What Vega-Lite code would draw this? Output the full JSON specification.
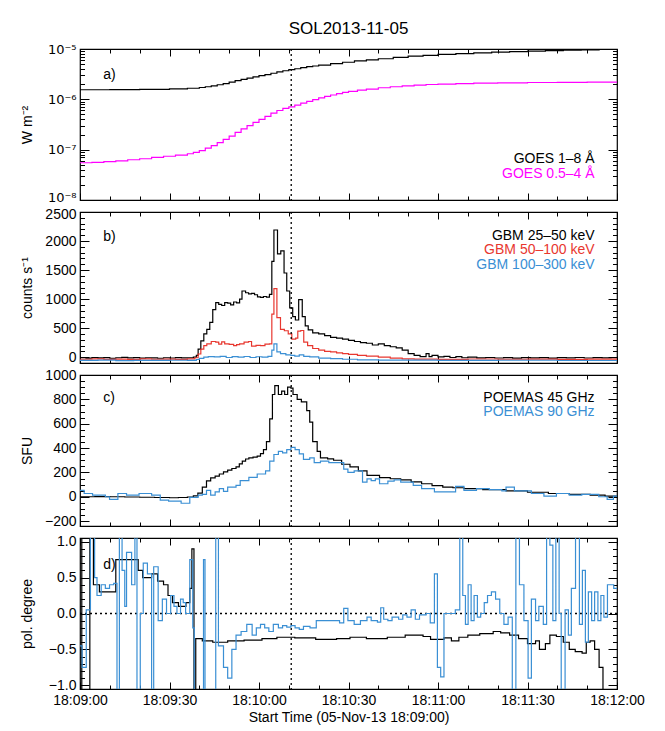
{
  "$schema": "https://vega.github.io/schema/vega-lite/v6.json",
  "title": {"text": "SOL2013-11-05", "fontSize": 17, "fontWeight": "normal", "font": "Liberation Sans", "color": "#000", "anchor": "middle", "frame": "group", "offset": 4},
  "padding": {"left": 19, "top": 20, "right": 5, "bottom": 0},
  "datasets": {
    "goes": [
      {"t": 0, "s": "1-8", "v": 1.55e-6}, {"t": 10, "s": "1-8", "v": 1.56e-6}, {"t": 20, "s": "1-8", "v": 1.58e-6}, {"t": 30, "s": "1-8", "v": 1.62e-6},
      {"t": 36, "s": "1-8", "v": 1.66e-6}, {"t": 40, "s": "1-8", "v": 1.72e-6}, {"t": 42, "s": "1-8", "v": 1.78e-6}, {"t": 44, "s": "1-8", "v": 1.85e-6},
      {"t": 46, "s": "1-8", "v": 1.95e-6}, {"t": 48, "s": "1-8", "v": 2.05e-6}, {"t": 50, "s": "1-8", "v": 2.2e-6}, {"t": 52, "s": "1-8", "v": 2.35e-6},
      {"t": 54, "s": "1-8", "v": 2.5e-6}, {"t": 56, "s": "1-8", "v": 2.65e-6}, {"t": 58, "s": "1-8", "v": 2.8e-6}, {"t": 60, "s": "1-8", "v": 2.95e-6},
      {"t": 62, "s": "1-8", "v": 3.1e-6}, {"t": 64, "s": "1-8", "v": 3.3e-6}, {"t": 66, "s": "1-8", "v": 3.5e-6}, {"t": 68, "s": "1-8", "v": 3.7e-6},
      {"t": 70, "s": "1-8", "v": 3.9e-6}, {"t": 72, "s": "1-8", "v": 4.05e-6}, {"t": 74, "s": "1-8", "v": 4.25e-6}, {"t": 76, "s": "1-8", "v": 4.45e-6},
      {"t": 78, "s": "1-8", "v": 4.6e-6}, {"t": 80, "s": "1-8", "v": 4.8e-6}, {"t": 84, "s": "1-8", "v": 5.1e-6}, {"t": 88, "s": "1-8", "v": 5.45e-6},
      {"t": 92, "s": "1-8", "v": 5.8e-6}, {"t": 96, "s": "1-8", "v": 6.1e-6}, {"t": 100, "s": "1-8", "v": 6.4e-6}, {"t": 105, "s": "1-8", "v": 6.8e-6},
      {"t": 110, "s": "1-8", "v": 7.2e-6}, {"t": 115, "s": "1-8", "v": 7.5e-6}, {"t": 120, "s": "1-8", "v": 7.8e-6}, {"t": 126, "s": "1-8", "v": 8.1e-6},
      {"t": 132, "s": "1-8", "v": 8.4e-6}, {"t": 138, "s": "1-8", "v": 8.7e-6}, {"t": 144, "s": "1-8", "v": 8.9e-6}, {"t": 150, "s": "1-8", "v": 9.1e-6},
      {"t": 156, "s": "1-8", "v": 9.3e-6}, {"t": 162, "s": "1-8", "v": 9.5e-6}, {"t": 168, "s": "1-8", "v": 9.65e-6}, {"t": 174, "s": "1-8", "v": 9.8e-6},
      {"t": 180, "s": "1-8", "v": 9.9e-6},
      {"t": 0, "s": "0.5-4", "v": 5.5e-8}, {"t": 4, "s": "0.5-4", "v": 5.6e-8}, {"t": 8, "s": "0.5-4", "v": 5.8e-8}, {"t": 12, "s": "0.5-4", "v": 6.0e-8},
      {"t": 16, "s": "0.5-4", "v": 6.3e-8}, {"t": 20, "s": "0.5-4", "v": 6.6e-8}, {"t": 24, "s": "0.5-4", "v": 7.0e-8}, {"t": 28, "s": "0.5-4", "v": 7.4e-8},
      {"t": 32, "s": "0.5-4", "v": 7.8e-8}, {"t": 36, "s": "0.5-4", "v": 8.3e-8}, {"t": 38, "s": "0.5-4", "v": 8.8e-8}, {"t": 40, "s": "0.5-4", "v": 9.6e-8},
      {"t": 42, "s": "0.5-4", "v": 1.07e-7}, {"t": 44, "s": "0.5-4", "v": 1.2e-7}, {"t": 46, "s": "0.5-4", "v": 1.38e-7}, {"t": 48, "s": "0.5-4", "v": 1.6e-7},
      {"t": 50, "s": "0.5-4", "v": 1.85e-7}, {"t": 52, "s": "0.5-4", "v": 2.2e-7}, {"t": 54, "s": "0.5-4", "v": 2.6e-7}, {"t": 56, "s": "0.5-4", "v": 3.0e-7},
      {"t": 58, "s": "0.5-4", "v": 3.5e-7}, {"t": 60, "s": "0.5-4", "v": 4.0e-7}, {"t": 62, "s": "0.5-4", "v": 4.6e-7}, {"t": 64, "s": "0.5-4", "v": 5.3e-7},
      {"t": 66, "s": "0.5-4", "v": 6.0e-7}, {"t": 68, "s": "0.5-4", "v": 6.6e-7}, {"t": 70, "s": "0.5-4", "v": 7.1e-7}, {"t": 72, "s": "0.5-4", "v": 7.7e-7},
      {"t": 74, "s": "0.5-4", "v": 8.4e-7}, {"t": 76, "s": "0.5-4", "v": 9.1e-7}, {"t": 78, "s": "0.5-4", "v": 9.9e-7}, {"t": 80, "s": "0.5-4", "v": 1.07e-6},
      {"t": 82, "s": "0.5-4", "v": 1.14e-6}, {"t": 84, "s": "0.5-4", "v": 1.22e-6}, {"t": 86, "s": "0.5-4", "v": 1.3e-6}, {"t": 88, "s": "0.5-4", "v": 1.37e-6},
      {"t": 90, "s": "0.5-4", "v": 1.44e-6}, {"t": 93, "s": "0.5-4", "v": 1.52e-6}, {"t": 96, "s": "0.5-4", "v": 1.6e-6}, {"t": 100, "s": "0.5-4", "v": 1.7e-6},
      {"t": 104, "s": "0.5-4", "v": 1.78e-6}, {"t": 108, "s": "0.5-4", "v": 1.85e-6}, {"t": 112, "s": "0.5-4", "v": 1.92e-6}, {"t": 116, "s": "0.5-4", "v": 1.97e-6},
      {"t": 120, "s": "0.5-4", "v": 2.01e-6}, {"t": 126, "s": "0.5-4", "v": 2.06e-6}, {"t": 132, "s": "0.5-4", "v": 2.1e-6}, {"t": 140, "s": "0.5-4", "v": 2.13e-6},
      {"t": 150, "s": "0.5-4", "v": 2.16e-6}, {"t": 160, "s": "0.5-4", "v": 2.18e-6}, {"t": 170, "s": "0.5-4", "v": 2.19e-6}, {"t": 180, "s": "0.5-4", "v": 2.2e-6}
    ],
    "gbm": [
      {"t": 0, "s": "25-50", "v": -10}, {"t": 2, "s": "25-50", "v": -15}, {"t": 4, "s": "25-50", "v": -5}, {"t": 6, "s": "25-50", "v": -12},
      {"t": 8, "s": "25-50", "v": -8}, {"t": 10, "s": "25-50", "v": -18}, {"t": 12, "s": "25-50", "v": -10}, {"t": 14, "s": "25-50", "v": -3},
      {"t": 16, "s": "25-50", "v": -12}, {"t": 18, "s": "25-50", "v": -8}, {"t": 20, "s": "25-50", "v": -15}, {"t": 22, "s": "25-50", "v": -10},
      {"t": 24, "s": "25-50", "v": -12}, {"t": 26, "s": "25-50", "v": -18}, {"t": 28, "s": "25-50", "v": -10}, {"t": 30, "s": "25-50", "v": -14},
      {"t": 32, "s": "25-50", "v": -8}, {"t": 34, "s": "25-50", "v": -12}, {"t": 36, "s": "25-50", "v": -10}, {"t": 38, "s": "25-50", "v": 0},
      {"t": 39, "s": "25-50", "v": 30}, {"t": 39.6, "s": "25-50", "v": 140}, {"t": 40.5, "s": "25-50", "v": 280}, {"t": 41.5, "s": "25-50", "v": 400},
      {"t": 42.5, "s": "25-50", "v": 480}, {"t": 43.5, "s": "25-50", "v": 600}, {"t": 44.5, "s": "25-50", "v": 820}, {"t": 45.5, "s": "25-50", "v": 940},
      {"t": 46.5, "s": "25-50", "v": 910}, {"t": 47.5, "s": "25-50", "v": 890}, {"t": 48.5, "s": "25-50", "v": 940}, {"t": 49.5, "s": "25-50", "v": 930},
      {"t": 50.5, "s": "25-50", "v": 900}, {"t": 51.5, "s": "25-50", "v": 950}, {"t": 52.5, "s": "25-50", "v": 935}, {"t": 53.5, "s": "25-50", "v": 1000},
      {"t": 54.3, "s": "25-50", "v": 1140}, {"t": 55.5, "s": "25-50", "v": 1110}, {"t": 56.5, "s": "25-50", "v": 1090}, {"t": 57.5, "s": "25-50", "v": 1100},
      {"t": 58.5, "s": "25-50", "v": 1075}, {"t": 59.5, "s": "25-50", "v": 1040}, {"t": 60.5, "s": "25-50", "v": 1030}, {"t": 61.5, "s": "25-50", "v": 1045},
      {"t": 62.5, "s": "25-50", "v": 1035}, {"t": 63.5, "s": "25-50", "v": 1080}, {"t": 64.3, "s": "25-50", "v": 1650}, {"t": 65, "s": "25-50", "v": 2190},
      {"t": 66.2, "s": "25-50", "v": 1780}, {"t": 67.3, "s": "25-50", "v": 1830}, {"t": 68.4, "s": "25-50", "v": 1450}, {"t": 69.3, "s": "25-50", "v": 1140},
      {"t": 70.3, "s": "25-50", "v": 850}, {"t": 71.3, "s": "25-50", "v": 700}, {"t": 72.2, "s": "25-50", "v": 640}, {"t": 73.3, "s": "25-50", "v": 990},
      {"t": 74.5, "s": "25-50", "v": 700}, {"t": 75.5, "s": "25-50", "v": 540}, {"t": 76.5, "s": "25-50", "v": 470}, {"t": 78, "s": "25-50", "v": 420},
      {"t": 80, "s": "25-50", "v": 400}, {"t": 82, "s": "25-50", "v": 370}, {"t": 84, "s": "25-50", "v": 340}, {"t": 86, "s": "25-50", "v": 330},
      {"t": 88, "s": "25-50", "v": 310}, {"t": 90, "s": "25-50", "v": 290}, {"t": 92, "s": "25-50", "v": 270}, {"t": 94, "s": "25-50", "v": 250},
      {"t": 96, "s": "25-50", "v": 240}, {"t": 98, "s": "25-50", "v": 210}, {"t": 100, "s": "25-50", "v": 230}, {"t": 102, "s": "25-50", "v": 200},
      {"t": 104, "s": "25-50", "v": 180}, {"t": 106, "s": "25-50", "v": 160}, {"t": 108, "s": "25-50", "v": 120}, {"t": 110, "s": "25-50", "v": 60},
      {"t": 112, "s": "25-50", "v": 30}, {"t": 114, "s": "25-50", "v": 10}, {"t": 116, "s": "25-50", "v": 60}, {"t": 117, "s": "25-50", "v": 10},
      {"t": 118, "s": "25-50", "v": 30}, {"t": 120, "s": "25-50", "v": 5}, {"t": 122, "s": "25-50", "v": 15}, {"t": 124, "s": "25-50", "v": -5},
      {"t": 126, "s": "25-50", "v": 10}, {"t": 128, "s": "25-50", "v": -10}, {"t": 130, "s": "25-50", "v": 0}, {"t": 133, "s": "25-50", "v": -12},
      {"t": 136, "s": "25-50", "v": -5}, {"t": 139, "s": "25-50", "v": -14}, {"t": 142, "s": "25-50", "v": -8}, {"t": 145, "s": "25-50", "v": -15},
      {"t": 148, "s": "25-50", "v": -6}, {"t": 151, "s": "25-50", "v": -12}, {"t": 154, "s": "25-50", "v": -9}, {"t": 157, "s": "25-50", "v": -16},
      {"t": 160, "s": "25-50", "v": -8}, {"t": 163, "s": "25-50", "v": -12}, {"t": 166, "s": "25-50", "v": -5}, {"t": 169, "s": "25-50", "v": -14},
      {"t": 172, "s": "25-50", "v": -9}, {"t": 175, "s": "25-50", "v": -13}, {"t": 178, "s": "25-50", "v": -7}, {"t": 180, "s": "25-50", "v": -10},
      {"t": 0, "s": "50-100", "v": -35}, {"t": 4, "s": "50-100", "v": -30}, {"t": 8, "s": "50-100", "v": -38}, {"t": 12, "s": "50-100", "v": -32},
      {"t": 16, "s": "50-100", "v": -36}, {"t": 20, "s": "50-100", "v": -30}, {"t": 24, "s": "50-100", "v": -35}, {"t": 28, "s": "50-100", "v": -32},
      {"t": 32, "s": "50-100", "v": -36}, {"t": 36, "s": "50-100", "v": -30}, {"t": 38.5, "s": "50-100", "v": -10}, {"t": 39.6, "s": "50-100", "v": 55},
      {"t": 40.5, "s": "50-100", "v": 140}, {"t": 41.5, "s": "50-100", "v": 200}, {"t": 42.5, "s": "50-100", "v": 230}, {"t": 44, "s": "50-100", "v": 270},
      {"t": 45.5, "s": "50-100", "v": 260}, {"t": 46.5, "s": "50-100", "v": 225}, {"t": 47.5, "s": "50-100", "v": 265}, {"t": 48.5, "s": "50-100", "v": 230},
      {"t": 50, "s": "50-100", "v": 220}, {"t": 51.5, "s": "50-100", "v": 200}, {"t": 52.5, "s": "50-100", "v": 215}, {"t": 53.5, "s": "50-100", "v": 230},
      {"t": 55, "s": "50-100", "v": 260}, {"t": 56.5, "s": "50-100", "v": 270}, {"t": 57.5, "s": "50-100", "v": 190}, {"t": 59, "s": "50-100", "v": 205},
      {"t": 60.5, "s": "50-100", "v": 200}, {"t": 62, "s": "50-100", "v": 225}, {"t": 63.5, "s": "50-100", "v": 230}, {"t": 64.3, "s": "50-100", "v": 740},
      {"t": 65, "s": "50-100", "v": 1180}, {"t": 66, "s": "50-100", "v": 680}, {"t": 67.2, "s": "50-100", "v": 480}, {"t": 68.5, "s": "50-100", "v": 455},
      {"t": 69.8, "s": "50-100", "v": 400}, {"t": 71, "s": "50-100", "v": 310}, {"t": 72.3, "s": "50-100", "v": 330}, {"t": 73, "s": "50-100", "v": 450},
      {"t": 74, "s": "50-100", "v": 460}, {"t": 75, "s": "50-100", "v": 260}, {"t": 76.3, "s": "50-100", "v": 200}, {"t": 78, "s": "50-100", "v": 150},
      {"t": 80, "s": "50-100", "v": 120}, {"t": 82, "s": "50-100", "v": 100}, {"t": 84, "s": "50-100", "v": 90}, {"t": 86, "s": "50-100", "v": 75},
      {"t": 88, "s": "50-100", "v": 60}, {"t": 90, "s": "50-100", "v": 50}, {"t": 93, "s": "50-100", "v": 30}, {"t": 96, "s": "50-100", "v": 20},
      {"t": 100, "s": "50-100", "v": 0}, {"t": 104, "s": "50-100", "v": -15}, {"t": 108, "s": "50-100", "v": -28}, {"t": 112, "s": "50-100", "v": -32},
      {"t": 120, "s": "50-100", "v": -36}, {"t": 130, "s": "50-100", "v": -31}, {"t": 140, "s": "50-100", "v": -35}, {"t": 150, "s": "50-100", "v": -33},
      {"t": 160, "s": "50-100", "v": -37}, {"t": 170, "s": "50-100", "v": -32}, {"t": 180, "s": "50-100", "v": -35},
      {"t": 0, "s": "100-300", "v": -55}, {"t": 6, "s": "100-300", "v": -52}, {"t": 12, "s": "100-300", "v": -58}, {"t": 18, "s": "100-300", "v": -54},
      {"t": 24, "s": "100-300", "v": -56}, {"t": 30, "s": "100-300", "v": -53}, {"t": 36, "s": "100-300", "v": -55}, {"t": 39, "s": "100-300", "v": -40},
      {"t": 40, "s": "100-300", "v": -20}, {"t": 41.5, "s": "100-300", "v": 0}, {"t": 43, "s": "100-300", "v": 10}, {"t": 45, "s": "100-300", "v": 5},
      {"t": 47, "s": "100-300", "v": 15}, {"t": 49, "s": "100-300", "v": -5}, {"t": 51, "s": "100-300", "v": 10}, {"t": 53, "s": "100-300", "v": 0},
      {"t": 55, "s": "100-300", "v": 12}, {"t": 57, "s": "100-300", "v": -5}, {"t": 59, "s": "100-300", "v": 8}, {"t": 61, "s": "100-300", "v": 2},
      {"t": 63, "s": "100-300", "v": 15}, {"t": 64.3, "s": "100-300", "v": 120}, {"t": 65, "s": "100-300", "v": 230}, {"t": 66, "s": "100-300", "v": 90},
      {"t": 67.2, "s": "100-300", "v": 60}, {"t": 69, "s": "100-300", "v": 40}, {"t": 70.7, "s": "100-300", "v": 30}, {"t": 72, "s": "100-300", "v": 20},
      {"t": 73.5, "s": "100-300", "v": 40}, {"t": 75, "s": "100-300", "v": 15}, {"t": 77, "s": "100-300", "v": 5}, {"t": 80, "s": "100-300", "v": -15},
      {"t": 84, "s": "100-300", "v": -25}, {"t": 88, "s": "100-300", "v": -35}, {"t": 93, "s": "100-300", "v": -45}, {"t": 100, "s": "100-300", "v": -52},
      {"t": 120, "s": "100-300", "v": -56}, {"t": 140, "s": "100-300", "v": -53}, {"t": 160, "s": "100-300", "v": -57}, {"t": 180, "s": "100-300", "v": -55}
    ],
    "poemas": [
      {"t": 0, "s": "45", "v": 0}, {"t": 5, "s": "45", "v": 2}, {"t": 10, "s": "45", "v": 0}, {"t": 15, "s": "45", "v": -2},
      {"t": 20, "s": "45", "v": -4}, {"t": 25, "s": "45", "v": -6}, {"t": 30, "s": "45", "v": -8}, {"t": 33, "s": "45", "v": -6},
      {"t": 36, "s": "45", "v": -2}, {"t": 38, "s": "45", "v": 8}, {"t": 39.5, "s": "45", "v": 30}, {"t": 41, "s": "45", "v": 80},
      {"t": 42.4, "s": "45", "v": 130}, {"t": 43.8, "s": "45", "v": 155}, {"t": 45.3, "s": "45", "v": 170}, {"t": 46.7, "s": "45", "v": 187},
      {"t": 48.1, "s": "45", "v": 205}, {"t": 49.5, "s": "45", "v": 219}, {"t": 50.9, "s": "45", "v": 232}, {"t": 52.3, "s": "45", "v": 245},
      {"t": 53.4, "s": "45", "v": 270}, {"t": 54.4, "s": "45", "v": 293}, {"t": 55.5, "s": "45", "v": 310}, {"t": 56.6, "s": "45", "v": 320},
      {"t": 58, "s": "45", "v": 326}, {"t": 59.4, "s": "45", "v": 333}, {"t": 60.5, "s": "45", "v": 355}, {"t": 61.5, "s": "45", "v": 387},
      {"t": 62.5, "s": "45", "v": 453}, {"t": 63.6, "s": "45", "v": 640}, {"t": 64.5, "s": "45", "v": 840}, {"t": 65.3, "s": "45", "v": 912},
      {"t": 66.5, "s": "45", "v": 840}, {"t": 67.6, "s": "45", "v": 867}, {"t": 68.6, "s": "45", "v": 840}, {"t": 69.6, "s": "45", "v": 901},
      {"t": 70.7, "s": "45", "v": 893}, {"t": 71.4, "s": "45", "v": 840}, {"t": 72.8, "s": "45", "v": 800}, {"t": 74.2, "s": "45", "v": 779},
      {"t": 76, "s": "45", "v": 707}, {"t": 77, "s": "45", "v": 613}, {"t": 78, "s": "45", "v": 453}, {"t": 79.5, "s": "45", "v": 373},
      {"t": 80.6, "s": "45", "v": 320}, {"t": 83, "s": "45", "v": 312}, {"t": 85, "s": "45", "v": 300}, {"t": 87.7, "s": "45", "v": 267},
      {"t": 90.5, "s": "45", "v": 245}, {"t": 93.3, "s": "45", "v": 213}, {"t": 96.2, "s": "45", "v": 175}, {"t": 100.4, "s": "45", "v": 158},
      {"t": 104, "s": "45", "v": 148}, {"t": 107.5, "s": "45", "v": 139}, {"t": 111, "s": "45", "v": 122}, {"t": 114.5, "s": "45", "v": 107},
      {"t": 118, "s": "45", "v": 92}, {"t": 121.6, "s": "45", "v": 80}, {"t": 125, "s": "45", "v": 74}, {"t": 128.7, "s": "45", "v": 67},
      {"t": 135, "s": "45", "v": 58}, {"t": 142.8, "s": "45", "v": 48}, {"t": 150, "s": "45", "v": 37}, {"t": 157, "s": "45", "v": 27},
      {"t": 164, "s": "45", "v": 20}, {"t": 171, "s": "45", "v": 13}, {"t": 176, "s": "45", "v": 6}, {"t": 180, "s": "45", "v": 0},
      {"t": 0, "s": "90", "v": 53}, {"t": 1.4, "s": "90", "v": 27}, {"t": 4.2, "s": "90", "v": 13}, {"t": 8.5, "s": "90", "v": 0},
      {"t": 9.9, "s": "90", "v": -21}, {"t": 12.7, "s": "90", "v": 27}, {"t": 15.6, "s": "90", "v": 13}, {"t": 19.8, "s": "90", "v": 27},
      {"t": 24, "s": "90", "v": 13}, {"t": 26.9, "s": "90", "v": -27}, {"t": 29.7, "s": "90", "v": -35}, {"t": 33.9, "s": "90", "v": -53},
      {"t": 36.8, "s": "90", "v": -5}, {"t": 39.6, "s": "90", "v": 13}, {"t": 41, "s": "90", "v": 20}, {"t": 42.4, "s": "90", "v": 53},
      {"t": 43.8, "s": "90", "v": 13}, {"t": 45.3, "s": "90", "v": 40}, {"t": 46.7, "s": "90", "v": 67}, {"t": 48.1, "s": "90", "v": 45},
      {"t": 49.5, "s": "90", "v": 80}, {"t": 52.3, "s": "90", "v": 93}, {"t": 53.7, "s": "90", "v": 133}, {"t": 56.6, "s": "90", "v": 160},
      {"t": 59.4, "s": "90", "v": 187}, {"t": 62.2, "s": "90", "v": 213}, {"t": 63.6, "s": "90", "v": 293}, {"t": 65, "s": "90", "v": 347},
      {"t": 66.5, "s": "90", "v": 373}, {"t": 67.9, "s": "90", "v": 360}, {"t": 69.3, "s": "90", "v": 387}, {"t": 70.7, "s": "90", "v": 405},
      {"t": 72.1, "s": "90", "v": 387}, {"t": 73.5, "s": "90", "v": 352}, {"t": 74.9, "s": "90", "v": 307}, {"t": 77, "s": "90", "v": 320},
      {"t": 78.5, "s": "90", "v": 280}, {"t": 80.6, "s": "90", "v": 293}, {"t": 83.4, "s": "90", "v": 280}, {"t": 86.3, "s": "90", "v": 280},
      {"t": 88.4, "s": "90", "v": 227}, {"t": 89.8, "s": "90", "v": 200}, {"t": 91.9, "s": "90", "v": 213}, {"t": 94.7, "s": "90", "v": 120},
      {"t": 96.2, "s": "90", "v": 147}, {"t": 97.6, "s": "90", "v": 133}, {"t": 99, "s": "90", "v": 147}, {"t": 100.4, "s": "90", "v": 107},
      {"t": 103.2, "s": "90", "v": 128}, {"t": 105.3, "s": "90", "v": 139}, {"t": 107.5, "s": "90", "v": 120}, {"t": 111.7, "s": "90", "v": 93},
      {"t": 114.5, "s": "90", "v": 67}, {"t": 118.8, "s": "90", "v": 40}, {"t": 123, "s": "90", "v": 40}, {"t": 125.9, "s": "90", "v": 85},
      {"t": 128.7, "s": "90", "v": 53}, {"t": 132.9, "s": "90", "v": 67}, {"t": 137.2, "s": "90", "v": 59}, {"t": 141.4, "s": "90", "v": 48},
      {"t": 142.8, "s": "90", "v": 80}, {"t": 145.6, "s": "90", "v": 48}, {"t": 151.3, "s": "90", "v": 27}, {"t": 155.5, "s": "90", "v": 5},
      {"t": 159.7, "s": "90", "v": 27}, {"t": 164, "s": "90", "v": 13}, {"t": 168.2, "s": "90", "v": 20}, {"t": 173.9, "s": "90", "v": 0},
      {"t": 176.7, "s": "90", "v": -21}, {"t": 178.8, "s": "90", "v": 5}, {"t": 180, "s": "90", "v": 10}
    ],
    "pol": [
      {"t": 0, "s": "45", "v": 1.3}, {"t": 0.6, "s": "45", "v": -1.3}, {"t": 3.3, "s": "45", "v": 1.3}, {"t": 4.5, "s": "45", "v": 0.4},
      {"t": 6.5, "s": "45", "v": 0.3}, {"t": 12, "s": "45", "v": 0.75}, {"t": 19.5, "s": "45", "v": 0.6}, {"t": 21, "s": "45", "v": 0.5},
      {"t": 24, "s": "45", "v": 0.55}, {"t": 26, "s": "45", "v": 0.45}, {"t": 28, "s": "45", "v": 0.4}, {"t": 29.5, "s": "45", "v": 0.25},
      {"t": 31, "s": "45", "v": 0.15}, {"t": 33, "s": "45", "v": 0.1}, {"t": 35.5, "s": "45", "v": 0.15}, {"t": 36.8, "s": "45", "v": 0.35},
      {"t": 37.5, "s": "45", "v": 0.9}, {"t": 38.2, "s": "45", "v": -1.3}, {"t": 38.8, "s": "45", "v": -0.35}, {"t": 41, "s": "45", "v": -0.38},
      {"t": 44.5, "s": "45", "v": -0.4}, {"t": 49.5, "s": "45", "v": -0.38}, {"t": 55, "s": "45", "v": -0.37}, {"t": 61, "s": "45", "v": -0.35},
      {"t": 66, "s": "45", "v": -0.33}, {"t": 72, "s": "45", "v": -0.34}, {"t": 79, "s": "45", "v": -0.36}, {"t": 86, "s": "45", "v": -0.35},
      {"t": 90.5, "s": "45", "v": -0.33}, {"t": 96, "s": "45", "v": -0.35}, {"t": 103, "s": "45", "v": -0.33}, {"t": 109, "s": "45", "v": -0.3},
      {"t": 115, "s": "45", "v": -0.32}, {"t": 117.5, "s": "45", "v": -0.36}, {"t": 122, "s": "45", "v": -0.34}, {"t": 124.5, "s": "45", "v": -0.38},
      {"t": 127, "s": "45", "v": -0.33}, {"t": 130, "s": "45", "v": -0.3}, {"t": 134, "s": "45", "v": -0.28}, {"t": 138.5, "s": "45", "v": -0.25},
      {"t": 141, "s": "45", "v": -0.27}, {"t": 144, "s": "45", "v": -0.3}, {"t": 147, "s": "45", "v": -0.35}, {"t": 150, "s": "45", "v": -0.42},
      {"t": 152.7, "s": "45", "v": -0.38}, {"t": 154, "s": "45", "v": -0.5}, {"t": 156, "s": "45", "v": -0.42}, {"t": 157.5, "s": "45", "v": -0.3},
      {"t": 159.7, "s": "45", "v": -0.32}, {"t": 162, "s": "45", "v": -0.4}, {"t": 164, "s": "45", "v": -0.5}, {"t": 166, "s": "45", "v": -0.53},
      {"t": 168.3, "s": "45", "v": -0.55}, {"t": 169.7, "s": "45", "v": -0.4}, {"t": 171, "s": "45", "v": -0.38}, {"t": 172.5, "s": "45", "v": -0.5},
      {"t": 174, "s": "45", "v": -0.75}, {"t": 175.3, "s": "45", "v": -1.3}, {"t": 180, "s": "45", "v": -1.3},
      {"t": 0, "s": "90", "v": -0.45}, {"t": 0.7, "s": "90", "v": -0.75}, {"t": 2.1, "s": "90", "v": 0.05}, {"t": 3.5, "s": "90", "v": 1.2},
      {"t": 4.9, "s": "90", "v": 0.5}, {"t": 5.7, "s": "90", "v": 0.25}, {"t": 7.1, "s": "90", "v": 0.4}, {"t": 8.5, "s": "90", "v": 0.35},
      {"t": 9.9, "s": "90", "v": 0.4}, {"t": 11.3, "s": "90", "v": 0.42}, {"t": 12.4, "s": "90", "v": -1.2}, {"t": 13.2, "s": "90", "v": 1.2},
      {"t": 14.1, "s": "90", "v": 0.6}, {"t": 15, "s": "90", "v": 0.1}, {"t": 15.6, "s": "90", "v": 0.85}, {"t": 17.3, "s": "90", "v": 0.4},
      {"t": 18.4, "s": "90", "v": 1.2}, {"t": 19.1, "s": "90", "v": -1.2}, {"t": 20.2, "s": "90", "v": 0.0}, {"t": 21.2, "s": "90", "v": 0.7},
      {"t": 22.6, "s": "90", "v": 0.55}, {"t": 24, "s": "90", "v": -1.2}, {"t": 24.7, "s": "90", "v": 0.65}, {"t": 26.2, "s": "90", "v": -0.1},
      {"t": 27.6, "s": "90", "v": 0.2}, {"t": 29, "s": "90", "v": 0.0}, {"t": 30.4, "s": "90", "v": 0.25}, {"t": 31.5, "s": "90", "v": 0.1},
      {"t": 32.5, "s": "90", "v": 0.0}, {"t": 33.7, "s": "90", "v": 0.2}, {"t": 34.6, "s": "90", "v": 0.15}, {"t": 35.4, "s": "90", "v": 0.0},
      {"t": 36.8, "s": "90", "v": 0.75}, {"t": 37.8, "s": "90", "v": -0.2}, {"t": 38.3, "s": "90", "v": -1.2}, {"t": 41.4, "s": "90", "v": 0.75},
      {"t": 41.9, "s": "90", "v": -1.2}, {"t": 45.5, "s": "90", "v": 1.2}, {"t": 46.4, "s": "90", "v": -0.45}, {"t": 48.1, "s": "90", "v": -0.75},
      {"t": 49.5, "s": "90", "v": -0.9}, {"t": 50.9, "s": "90", "v": -0.5}, {"t": 52.3, "s": "90", "v": -0.3}, {"t": 54, "s": "90", "v": -0.25},
      {"t": 55.9, "s": "90", "v": -0.15}, {"t": 57.7, "s": "90", "v": -0.3}, {"t": 59.1, "s": "90", "v": -0.2}, {"t": 60.5, "s": "90", "v": -0.15},
      {"t": 61.9, "s": "90", "v": -0.2}, {"t": 63.3, "s": "90", "v": -0.25}, {"t": 64.8, "s": "90", "v": -0.15}, {"t": 66.5, "s": "90", "v": -0.2},
      {"t": 67.9, "s": "90", "v": -0.17}, {"t": 69.3, "s": "90", "v": -0.19}, {"t": 70.7, "s": "90", "v": -0.17}, {"t": 72.1, "s": "90", "v": -0.2},
      {"t": 73.5, "s": "90", "v": -0.22}, {"t": 74.9, "s": "90", "v": -0.18}, {"t": 77.1, "s": "90", "v": -0.2}, {"t": 79.2, "s": "90", "v": -0.1},
      {"t": 82, "s": "90", "v": -0.1}, {"t": 84.8, "s": "90", "v": -0.1}, {"t": 87, "s": "90", "v": -0.13}, {"t": 88.4, "s": "90", "v": 0.07},
      {"t": 89.8, "s": "90", "v": -0.1}, {"t": 91.9, "s": "90", "v": -0.15}, {"t": 94, "s": "90", "v": -0.1}, {"t": 96.2, "s": "90", "v": -0.05},
      {"t": 97.6, "s": "90", "v": -0.1}, {"t": 99.7, "s": "90", "v": -0.12}, {"t": 100.8, "s": "90", "v": 0.08}, {"t": 101.8, "s": "90", "v": -0.08},
      {"t": 103.2, "s": "90", "v": -0.1}, {"t": 104.6, "s": "90", "v": -0.05}, {"t": 106.8, "s": "90", "v": -0.08}, {"t": 108.2, "s": "90", "v": -0.02},
      {"t": 109.6, "s": "90", "v": -0.05}, {"t": 111, "s": "90", "v": 0.05}, {"t": 112.4, "s": "90", "v": -0.08}, {"t": 113.8, "s": "90", "v": -0.02},
      {"t": 116, "s": "90", "v": 0.0}, {"t": 117.4, "s": "90", "v": -0.13}, {"t": 118.8, "s": "90", "v": 0.55}, {"t": 119.8, "s": "90", "v": -0.75},
      {"t": 120.9, "s": "90", "v": -0.88}, {"t": 122, "s": "90", "v": 0.0}, {"t": 124.1, "s": "90", "v": 0.0}, {"t": 125.8, "s": "90", "v": 0.05},
      {"t": 127.3, "s": "90", "v": 1.2}, {"t": 128.3, "s": "90", "v": 0.25}, {"t": 129.2, "s": "90", "v": -0.15}, {"t": 130.1, "s": "90", "v": 0.4},
      {"t": 131.1, "s": "90", "v": -0.1}, {"t": 132.1, "s": "90", "v": 0.25}, {"t": 133.2, "s": "90", "v": -0.05}, {"t": 134.3, "s": "90", "v": 0.0},
      {"t": 135.5, "s": "90", "v": 0.15}, {"t": 136.6, "s": "90", "v": 0.25}, {"t": 137.9, "s": "90", "v": 0.3}, {"t": 139.3, "s": "90", "v": 0.2},
      {"t": 140.7, "s": "90", "v": 0.0}, {"t": 142.1, "s": "90", "v": -0.15}, {"t": 143.5, "s": "90", "v": -0.05}, {"t": 144.9, "s": "90", "v": -1.2},
      {"t": 146.1, "s": "90", "v": 1.2}, {"t": 147.3, "s": "90", "v": 0.4}, {"t": 148.8, "s": "90", "v": -0.1}, {"t": 150.2, "s": "90", "v": -0.9},
      {"t": 151.3, "s": "90", "v": 0.2}, {"t": 152.7, "s": "90", "v": -0.1}, {"t": 153.8, "s": "90", "v": 0.1}, {"t": 155.3, "s": "90", "v": -0.15},
      {"t": 156.4, "s": "90", "v": 1.2}, {"t": 157.5, "s": "90", "v": 0.95}, {"t": 158.5, "s": "90", "v": -0.1}, {"t": 159.5, "s": "90", "v": 1.2},
      {"t": 160.6, "s": "90", "v": 0.0}, {"t": 161.3, "s": "90", "v": -1.2}, {"t": 162.6, "s": "90", "v": 0.05}, {"t": 163.7, "s": "90", "v": -0.3},
      {"t": 164.7, "s": "90", "v": 0.35}, {"t": 166.1, "s": "90", "v": 1.2}, {"t": 167.4, "s": "90", "v": -0.15}, {"t": 168.4, "s": "90", "v": 0.6},
      {"t": 169.4, "s": "90", "v": -0.4}, {"t": 170.4, "s": "90", "v": 0.3}, {"t": 171.5, "s": "90", "v": -0.1}, {"t": 172.5, "s": "90", "v": 0.3},
      {"t": 173.6, "s": "90", "v": -0.1}, {"t": 174.6, "s": "90", "v": 0.25}, {"t": 175.6, "s": "90", "v": -0.05}, {"t": 176.8, "s": "90", "v": 0.4},
      {"t": 178.9, "s": "90", "v": 0.35}, {"t": 180, "s": "90", "v": 0.35}
    ],
    "notes": [
      {"panel": "a", "kind": "tag", "t": 7.8, "v": 3.1e-6, "text": "a)", "s": "1-8"},
      {"panel": "a", "kind": "key", "t": 172.5, "v": 6.6e-8, "text": "GOES 1–8 Å", "s": "1-8"},
      {"panel": "a", "kind": "key", "t": 172.5, "v": 3.3e-8, "text": "GOES 0.5–4 Å", "s": "0.5-4"},
      {"panel": "b", "kind": "tag", "t": 7.8, "v": 2070, "text": "b)", "s": "25-50"},
      {"panel": "b", "kind": "key", "t": 172.5, "v": 2090, "text": "GBM 25–50 keV", "s": "25-50"},
      {"panel": "b", "kind": "key", "t": 172.5, "v": 1840, "text": "GBM 50–100 keV", "s": "50-100"},
      {"panel": "b", "kind": "key", "t": 172.5, "v": 1590, "text": "GBM 100–300 keV", "s": "100-300"},
      {"panel": "c", "kind": "tag", "t": 7.8, "v": 813, "text": "c)", "s": "45"},
      {"panel": "c", "kind": "key", "t": 172.5, "v": 813, "text": "POEMAS 45 GHz", "s": "45"},
      {"panel": "c", "kind": "key", "t": 172.5, "v": 693, "text": "POEMAS 90 GHz", "s": "90"},
      {"panel": "d", "kind": "tag", "t": 7.8, "v": 0.67, "text": "d)", "s": "45"}
    ],
    "marker": [{"t": 70.8}],
    "zero": [{"v": 0}]
  },
  "vconcat": [
    {
      "width": 537, "height": 151,
      "layer": [
        {"data": {"name": "goes"}, "mark": {"type": "line", "interpolate": "step-after", "strokeWidth": 1.2, "clip": true},
         "encoding": {
           "x": {"field": "t", "type": "quantitative", "scale": {"domain": [0, 180], "nice": false, "zero": false},
                 "axis": {"orient": "bottom", "values": [0,10,20,30,40,50,60,70,80,90,100,110,120,130,140,150,160,170,180], "labels": false, "title": null, "tickSize": {"condition": {"test": "datum.value % 30 === 0", "value": -7}, "value": -4}}},
           "y": {"field": "v", "type": "quantitative", "scale": {"type": "log", "domain": [1e-8, 1e-5], "nice": false},
                 "axis": {"orient": "left", "values": [1e-8,2e-8,3e-8,4e-8,5e-8,6e-8,7e-8,8e-8,9e-8,1e-7,2e-7,3e-7,4e-7,5e-7,6e-7,7e-7,8e-7,9e-7,1e-6,2e-6,3e-6,4e-6,5e-6,6e-6,7e-6,8e-6,9e-6,1e-5],
                          "labelExpr": "datum.value === 1e-5 ? '10⁻⁵' : datum.value === 1e-6 ? '10⁻⁶' : datum.value === 1e-7 ? '10⁻⁷' : datum.value === 1e-8 ? '10⁻⁸' : ''",
                          "labelPadding": 13, "labelFont": "DejaVu Sans", "labelFontSize": 13,
                          "labelOffset": {"condition": {"test": "datum.value === 1e-8", "value": -3}, "value": 0},
                          "title": "W m⁻²", "titleX": -46,
                          "tickSize": {"condition": {"test": "datum.value === 1e-8 || datum.value === 1e-7 || datum.value === 1e-6 || datum.value === 1e-5", "value": -9}, "value": -4.5}}},
           "color": {"field": "s", "type": "nominal", "scale": {"domain": ["1-8", "0.5-4"], "range": ["#000000", "#ff00ff"]}, "legend": null}
         }},
        {"data": {"name": "goes"}, "mark": {"type": "line", "opacity": 0},
         "encoding": {
           "x": {"field": "t", "type": "quantitative", "axis": {"orient": "top", "values": [0,10,20,30,40,50,60,70,80,90,100,110,120,130,140,150,160,170,180], "labels": false, "title": null, "tickSize": {"condition": {"test": "datum.value % 30 === 0", "value": -7}, "value": -4}}},
           "y": {"field": "v", "type": "quantitative", "axis": {"orient": "right", "values": [1e-8,2e-8,3e-8,4e-8,5e-8,6e-8,7e-8,8e-8,9e-8,1e-7,2e-7,3e-7,4e-7,5e-7,6e-7,7e-7,8e-7,9e-7,1e-6,2e-6,3e-6,4e-6,5e-6,6e-6,7e-6,8e-6,9e-6,1e-5], "labels": false, "title": null,
                 "tickSize": {"condition": {"test": "datum.value === 1e-8 || datum.value === 1e-7 || datum.value === 1e-6 || datum.value === 1e-5", "value": -9}, "value": -4.5}}}
         }},
        {"data": {"name": "marker"}, "mark": {"type": "rule", "color": "#000", "strokeDash": [2, 3], "strokeWidth": 1.3},
         "encoding": {"x": {"field": "t", "type": "quantitative", "axis": null}}},
        {"data": {"name": "notes"}, "transform": [{"filter": "datum.panel === 'a' && datum.kind === 'key'"}],
         "mark": {"type": "text", "align": "right", "baseline": "middle", "font": "Liberation Sans", "fontSize": 14},
         "encoding": {"x": {"field": "t", "type": "quantitative", "axis": null}, "y": {"field": "v", "type": "quantitative", "axis": null}, "text": {"field": "text"}, "color": {"field": "s", "type": "nominal", "legend": null}}},
        {"data": {"name": "notes"}, "transform": [{"filter": "datum.panel === 'a' && datum.kind === 'tag'"}],
         "mark": {"type": "text", "align": "left", "baseline": "middle", "font": "Liberation Sans", "fontSize": 14},
         "encoding": {"x": {"field": "t", "type": "quantitative", "axis": null}, "y": {"field": "v", "type": "quantitative", "axis": null}, "text": {"field": "text"}, "color": {"field": "s", "type": "nominal", "legend": null}}}
      ],
      "resolve": {"axis": {"x": "independent", "y": "independent"}}
    },
    {
      "width": 537, "height": 151,
      "layer": [
        {"data": {"name": "gbm"}, "mark": {"type": "line", "interpolate": "step-after", "strokeWidth": 1.2, "clip": true},
         "encoding": {
           "x": {"field": "t", "type": "quantitative", "scale": {"domain": [0, 180], "nice": false, "zero": false},
                 "axis": {"orient": "bottom", "values": [0,10,20,30,40,50,60,70,80,90,100,110,120,130,140,150,160,170,180], "labels": false, "title": null, "tickSize": {"condition": {"test": "datum.value % 30 === 0", "value": -7}, "value": -4}}},
           "y": {"field": "v", "type": "quantitative", "scale": {"domain": [-100, 2500], "nice": false, "zero": false},
                 "axis": {"orient": "left", "values": [0,100,200,300,400,500,600,700,800,900,1000,1100,1200,1300,1400,1500,1600,1700,1800,1900,2000,2100,2200,2300,2400,2500],
                          "labelExpr": "datum.value % 500 === 0 ? format(datum.value, 'd') : ''", "labelPadding": 13,
                          "labelOffset": {"condition": {"test": "datum.value === 2500", "value": 2}, "value": 0},
                          "title": "counts s⁻¹", "titleX": -46,
                          "tickSize": {"condition": {"test": "datum.value % 500 === 0", "value": -9}, "value": -4.5}}},
           "color": {"field": "s", "type": "nominal", "scale": {"domain": ["25-50", "50-100", "100-300"], "range": ["#000000", "#e8372f", "#3a8fd4"]}, "legend": null}
         }},
        {"data": {"name": "gbm"}, "mark": {"type": "line", "opacity": 0},
         "encoding": {
           "x": {"field": "t", "type": "quantitative", "axis": {"orient": "top", "values": [0,10,20,30,40,50,60,70,80,90,100,110,120,130,140,150,160,170,180], "labels": false, "title": null, "tickSize": {"condition": {"test": "datum.value % 30 === 0", "value": -7}, "value": -4}}},
           "y": {"field": "v", "type": "quantitative", "axis": {"orient": "right", "values": [0,100,200,300,400,500,600,700,800,900,1000,1100,1200,1300,1400,1500,1600,1700,1800,1900,2000,2100,2200,2300,2400,2500], "labels": false, "title": null,
                 "tickSize": {"condition": {"test": "datum.value % 500 === 0", "value": -9}, "value": -4.5}}}
         }},
        {"data": {"name": "marker"}, "mark": {"type": "rule", "color": "#000", "strokeDash": [2, 3], "strokeWidth": 1.3},
         "encoding": {"x": {"field": "t", "type": "quantitative", "axis": null}}},
        {"data": {"name": "notes"}, "transform": [{"filter": "datum.panel === 'b' && datum.kind === 'key'"}],
         "mark": {"type": "text", "align": "right", "baseline": "middle", "font": "Liberation Sans", "fontSize": 14},
         "encoding": {"x": {"field": "t", "type": "quantitative", "axis": null}, "y": {"field": "v", "type": "quantitative", "axis": null}, "text": {"field": "text"}, "color": {"field": "s", "type": "nominal", "legend": null}}},
        {"data": {"name": "notes"}, "transform": [{"filter": "datum.panel === 'b' && datum.kind === 'tag'"}],
         "mark": {"type": "text", "align": "left", "baseline": "middle", "font": "Liberation Sans", "fontSize": 14},
         "encoding": {"x": {"field": "t", "type": "quantitative", "axis": null}, "y": {"field": "v", "type": "quantitative", "axis": null}, "text": {"field": "text"}, "color": {"field": "s", "type": "nominal", "legend": null}}}
      ],
      "resolve": {"axis": {"x": "independent", "y": "independent"}}
    },
    {
      "width": 537, "height": 151,
      "layer": [
        {"data": {"name": "poemas"}, "mark": {"type": "line", "interpolate": "step-after", "strokeWidth": 1.2, "clip": true},
         "encoding": {
           "x": {"field": "t", "type": "quantitative", "scale": {"domain": [0, 180], "nice": false, "zero": false},
                 "axis": {"orient": "bottom", "values": [0,10,20,30,40,50,60,70,80,90,100,110,120,130,140,150,160,170,180], "labels": false, "title": null, "tickSize": {"condition": {"test": "datum.value % 30 === 0", "value": -7}, "value": -4}}},
           "y": {"field": "v", "type": "quantitative", "scale": {"domain": [-240, 1000], "nice": false, "zero": false},
                 "axis": {"orient": "left", "values": [-200,-150,-100,-50,0,50,100,150,200,250,300,350,400,450,500,550,600,650,700,750,800,850,900,950,1000],
                          "labelExpr": "datum.value % 200 === 0 ? format(datum.value, 'd') : ''", "labelPadding": 13,
                          "title": "SFU", "titleX": -46,
                          "tickSize": {"condition": {"test": "datum.value % 200 === 0", "value": -9}, "value": -4.5}}},
           "color": {"field": "s", "type": "nominal", "scale": {"domain": ["45", "90"], "range": ["#000000", "#3a8fd4"]}, "legend": null}
         }},
        {"data": {"name": "poemas"}, "mark": {"type": "line", "opacity": 0},
         "encoding": {
           "x": {"field": "t", "type": "quantitative", "axis": {"orient": "top", "values": [0,10,20,30,40,50,60,70,80,90,100,110,120,130,140,150,160,170,180], "labels": false, "title": null, "tickSize": {"condition": {"test": "datum.value % 30 === 0", "value": -7}, "value": -4}}},
           "y": {"field": "v", "type": "quantitative", "axis": {"orient": "right", "values": [-200,-150,-100,-50,0,50,100,150,200,250,300,350,400,450,500,550,600,650,700,750,800,850,900,950,1000], "labels": false, "title": null,
                 "tickSize": {"condition": {"test": "datum.value % 200 === 0", "value": -9}, "value": -4.5}}}
         }},
        {"data": {"name": "marker"}, "mark": {"type": "rule", "color": "#000", "strokeDash": [2, 3], "strokeWidth": 1.3},
         "encoding": {"x": {"field": "t", "type": "quantitative", "axis": null}}},
        {"data": {"name": "notes"}, "transform": [{"filter": "datum.panel === 'c' && datum.kind === 'key'"}],
         "mark": {"type": "text", "align": "right", "baseline": "middle", "font": "Liberation Sans", "fontSize": 14},
         "encoding": {"x": {"field": "t", "type": "quantitative", "axis": null}, "y": {"field": "v", "type": "quantitative", "axis": null}, "text": {"field": "text"}, "color": {"field": "s", "type": "nominal", "legend": null}}},
        {"data": {"name": "notes"}, "transform": [{"filter": "datum.panel === 'c' && datum.kind === 'tag'"}],
         "mark": {"type": "text", "align": "left", "baseline": "middle", "font": "Liberation Sans", "fontSize": 14},
         "encoding": {"x": {"field": "t", "type": "quantitative", "axis": null}, "y": {"field": "v", "type": "quantitative", "axis": null}, "text": {"field": "text"}, "color": {"field": "s", "type": "nominal", "legend": null}}}
      ],
      "resolve": {"axis": {"x": "independent", "y": "independent"}}
    },
    {
      "width": 537, "height": 151,
      "layer": [
        {"data": {"name": "zero"}, "mark": {"type": "rule", "color": "#000", "strokeDash": [2, 3], "strokeWidth": 1.3},
         "encoding": {"y": {"field": "v", "type": "quantitative", "axis": null}}},
        {"data": {"name": "pol"}, "mark": {"type": "line", "interpolate": "step-after", "strokeWidth": 1.2, "clip": true},
         "encoding": {
           "x": {"field": "t", "type": "quantitative", "scale": {"domain": [0, 180], "nice": false, "zero": false},
                 "axis": {"orient": "bottom", "values": [0,10,20,30,40,50,60,70,80,90,100,110,120,130,140,150,160,170,180],
                          "labelExpr": "datum.value % 30 === 0 ? ['18:09:00','18:09:30','18:10:00','18:10:30','18:11:00','18:11:30','18:12:00'][datum.value / 30] : ''",
                          "labelFlush": false, "labelPadding": 11,
                          "title": "Start Time (05-Nov-13 18:09:00)", "titlePadding": 0,
                          "tickSize": {"condition": {"test": "datum.value % 30 === 0", "value": -7}, "value": -4}}},
           "y": {"field": "v", "type": "quantitative", "scale": {"domain": [-1.05, 1.05], "nice": false, "zero": false},
                 "axis": {"orient": "left", "values": [-1,-0.9,-0.8,-0.7,-0.6,-0.5,-0.4,-0.3,-0.2,-0.1,0,0.1,0.2,0.3,0.4,0.5,0.6,0.7,0.8,0.9,1],
                          "labelExpr": "abs(datum.value * 2 - round(datum.value * 2)) < 0.001 ? format(datum.value, '.1f') : ''", "labelPadding": 13,
                          "title": "pol. degree", "titleX": -46,
                          "tickSize": {"condition": {"test": "abs(datum.value * 2 - round(datum.value * 2)) < 0.001", "value": -9}, "value": -4.5}}},
           "color": {"field": "s", "type": "nominal", "scale": {"domain": ["45", "90"], "range": ["#000000", "#3a8fd4"]}, "legend": null}
         }},
        {"data": {"name": "pol"}, "mark": {"type": "line", "opacity": 0},
         "encoding": {
           "x": {"field": "t", "type": "quantitative", "axis": {"orient": "top", "values": [0,10,20,30,40,50,60,70,80,90,100,110,120,130,140,150,160,170,180], "labels": false, "title": null, "tickSize": {"condition": {"test": "datum.value % 30 === 0", "value": -7}, "value": -4}}},
           "y": {"field": "v", "type": "quantitative", "axis": {"orient": "right", "values": [-1,-0.9,-0.8,-0.7,-0.6,-0.5,-0.4,-0.3,-0.2,-0.1,0,0.1,0.2,0.3,0.4,0.5,0.6,0.7,0.8,0.9,1], "labels": false, "title": null,
                 "tickSize": {"condition": {"test": "abs(datum.value * 2 - round(datum.value * 2)) < 0.001", "value": -9}, "value": -4.5}}}
         }},
        {"data": {"name": "marker"}, "mark": {"type": "rule", "color": "#000", "strokeDash": [2, 3], "strokeWidth": 1.3},
         "encoding": {"x": {"field": "t", "type": "quantitative", "axis": null}}},
        {"data": {"name": "notes"}, "transform": [{"filter": "datum.panel === 'd' && datum.kind === 'tag'"}],
         "mark": {"type": "text", "align": "left", "baseline": "middle", "font": "Liberation Sans", "fontSize": 14},
         "encoding": {"x": {"field": "t", "type": "quantitative", "axis": null}, "y": {"field": "v", "type": "quantitative", "axis": null}, "text": {"field": "text"}, "color": {"field": "s", "type": "nominal", "legend": null}}}
      ],
      "resolve": {"axis": {"x": "independent", "y": "independent"}}
    }
  ],
  "spacing": 12,
  "bounds": "flush",
  "resolve": {"scale": {"color": "independent"}},
  "config": {
    "view": {"stroke": "#000", "strokeWidth": 1.2},
    "axis": {"domain": false, "grid": false, "tickColor": "#000", "tickWidth": 1, "labelOverlap": false, "labelBound": false, "labelFlush": false,
             "labelFont": "Liberation Sans", "labelFontSize": 14, "labelColor": "#000", "labelPadding": 4,
             "titleFont": "Liberation Sans", "titleFontSize": 14, "titleFontWeight": "normal", "titleColor": "#000"},
    "text": {"font": "Liberation Sans"}
  }
}
